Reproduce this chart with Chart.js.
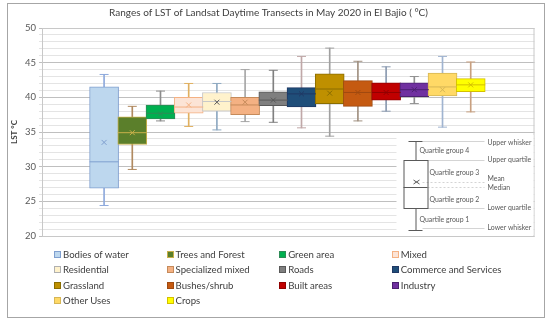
<!DOCTYPE html>
<html>
<head>
<meta charset="utf-8">
<script src="https://cdn.jsdelivr.net/npm/chart.js@4"></script>
<style>
  html, body { margin: 0; padding: 0; background: #fff; }
  #wrap { position: relative; width: 550px; height: 320px; overflow: hidden; }
  #frame { position: absolute; left: 7px; top: 3px; width: 536px; height: 313px; border: 1px solid #a6a6a6; pointer-events: none; }
  #legend { position: absolute; left: 54px; top: 247px; display: grid; grid-template-columns: repeat(4, 112.6px); grid-auto-rows: 15.3px;
            font-family: Lato, sans-serif; font-size: 9.6px; color: #404040; }
  #legend div { display: flex; align-items: center; white-space: nowrap; }
  #legend span.sw { display: inline-block; flex: 0 0 auto; width: 5px; height: 5px; border: 1px solid; margin-right: 2px; }
</style>
</head>
<body>
<div id="wrap">
  <canvas id="lstChart" width="550" height="320"></canvas>
  <div id="legend"></div>
  <div id="frame"></div>
</div>
<script>
// categories and box plot values (°C)
const categories = ['Bodies of water', 'Trees and Forest', 'Green area', 'Mixed', 'Residential', 'Specialized mixed', 'Roads',
  'Commerce and Services', 'Grassland', 'Bushes/shrub', 'Built areas', 'Industry', 'Other Uses', 'Crops'];
const whiskerLow  = [24.4, 29.6, 36.6, 35.8, 35.3, 36.5, 36.4, 35.6, 34.4, 36.6, 38.0, 39.1, 35.7, 37.9];
const quartile1   = [26.9, 33.2, 36.9, 37.7, 38.0, 37.5, 38.8, 38.6, 39.1, 38.7, 39.6, 40.1, 40.2, 40.8];
const median      = [30.7, 34.9, 37.7, 38.6, 39.4, 38.9, 39.6, 40.5, 41.2, 40.7, 40.7, 41.1, 41.5, 41.8];
const quartile3   = [41.5, 37.2, 38.9, 40.0, 40.7, 40.0, 40.8, 41.4, 43.4, 42.4, 42.1, 42.1, 43.5, 42.7];
const whiskerHigh = [43.3, 38.7, 40.9, 42.0, 42.0, 44.0, 43.9, 45.9, 47.1, 45.2, 44.4, 43.0, 45.9, 45.1];
const mean        = [33.5, 34.9, 37.6, 38.9, 39.3, 39.3, 39.6, 40.5, 40.6, 40.7, 40.7, 41.1, 41.1, 41.8];
const yTicks = [20, 25, 30, 35, 40, 45, 50];

// colours
const fills    = ['#bdd7ee', '#5b7f2b', '#00b050', '#fce4d6', '#fff2cc', '#f4b183', '#7f7f7f', '#1f4e79', '#bf9000', '#c55a11', '#c00000', '#7030a0', '#ffd966', '#ffff00'];
const borders  = ['#7f9fcf', '#c9b04a', '#2e8b57', '#f4b183', '#c9c9c9', '#c58a5a', '#595959', '#1f3864', '#8a6d00', '#a04a10', '#900000', '#4b2070', '#d6b656', '#d4c000'];
const whiskers = ['#8faadc', '#b08a60', '#8c8c8c', '#e0b060', '#8ea9c1', '#a6a6a6', '#808080', '#c0a8a8', '#a0a0a0', '#a09080', '#8a9ab0', '#909090', '#a0b4d0', '#c8a080'];

const idx = categories.map((c, i) => i);

// box plot key in the lower right of the plot + plot frame
const boxKey = {
  id: 'boxKey',
  beforeDatasetsDraw(chart) {
    const { ctx, chartArea: a } = chart;
    ctx.save();
    ctx.strokeStyle = '#c8c8c8';
    ctx.lineWidth = 1;
    ctx.strokeRect(a.left + 0.5, a.top + 0.5, a.right - a.left - 1, a.bottom - a.top);
    const R = a.right, B = a.bottom;
    ctx.fillStyle = '#fff';
    ctx.fillRect(R - 138, B - 101, 137, 100);
    const cx = R - 119;
    ctx.strokeStyle = '#d4d4d4';
    [[-95, -112, -50], [-76, -107, -50], [-28, -107, -50], [-8, -112, -50]].forEach(([dy, x0, x1]) => {
      ctx.beginPath(); ctx.moveTo(R + x0, B + dy + 0.5); ctx.lineTo(R + x1, B + dy + 0.5); ctx.stroke();
    });
    ctx.setLineDash([2, 2]);
    [[-54, -112], [-49, -107]].forEach(([dy, x0]) => {
      ctx.beginPath(); ctx.moveTo(R + x0, B + dy + 0.5); ctx.lineTo(R - 50, B + dy + 0.5); ctx.stroke();
    });
    ctx.setLineDash([]);
    ctx.strokeStyle = '#595959';
    ctx.beginPath();
    ctx.moveTo(cx + 0.5, B - 95); ctx.lineTo(cx + 0.5, B - 76);
    ctx.moveTo(cx + 0.5, B - 28); ctx.lineTo(cx + 0.5, B - 6);
    ctx.moveTo(cx - 7, B - 95 + 0.5); ctx.lineTo(cx + 7, B - 95 + 0.5);
    ctx.moveTo(cx - 7, B - 6 + 0.5); ctx.lineTo(cx + 7, B - 6 + 0.5);
    ctx.stroke();
    ctx.strokeRect(cx - 12 + 0.5, B - 76 + 0.5, 24, 48);
    ctx.beginPath();
    ctx.moveTo(cx - 12, B - 49 + 0.5); ctx.lineTo(cx + 12, B - 49 + 0.5);
    ctx.moveTo(cx - 2, B - 56); ctx.lineTo(cx + 4, B - 52);
    ctx.moveTo(cx + 4, B - 56); ctx.lineTo(cx - 2, B - 52);
    ctx.stroke();
    ctx.font = '6.9px Lato, sans-serif';
    ctx.fillStyle = '#595959';
    ctx.textBaseline = 'middle';
    ctx.fillText('Quartile group 4', R - 115, B - 85);
    ctx.fillText('Quartile group 3', R - 105, B - 63);
    ctx.fillText('Quartile group 2', R - 105, B - 36);
    ctx.fillText('Quartile group 1', R - 115, B - 16);
    ctx.fillText('Upper whisker', R - 47, B - 93);
    ctx.fillText('Upper quartile', R - 47, B - 76);
    ctx.fillText('Mean', R - 47, B - 57);
    ctx.fillText('Median', R - 47, B - 48);
    ctx.fillText('Lower quartile', R - 47, B - 28);
    ctx.fillText('Lower whisker', R - 47, B - 8);
    ctx.restore();
  }
};

const chart = new Chart(document.getElementById('lstChart').getContext('2d'), {
  type: 'bar',
  data: {
    labels: categories,
    datasets: [
      {
        // whisker stems
        type: 'bar',
        data: idx.map(i => ({ x: i, y: [whiskerLow[i], whiskerHigh[i]] })),
        backgroundColor: whiskers,
        barThickness: 1,
        grouped: false,
        order: 4
      },
      {
        // boxes Q1..Q3
        type: 'bar',
        data: idx.map(i => ({ x: i, y: [quartile1[i], quartile3[i]] })),
        backgroundColor: fills,
        borderColor: borders,
        borderWidth: 1,
        borderSkipped: false,
        barThickness: 29,
        grouped: false,
        order: 3
      },
      {
        // whisker caps
        type: 'scatter',
        data: idx.map(i => ({ x: i, y: whiskerLow[i] })).concat(idx.map(i => ({ x: i, y: whiskerHigh[i] }))),
        pointStyle: 'line',
        pointRadius: 4.5,
        borderColor: whiskers.concat(whiskers),
        borderWidth: 1,
        order: 2
      },
      {
        // medians
        type: 'scatter',
        data: idx.map(i => ({ x: i, y: median[i] })),
        pointStyle: 'line',
        pointRadius: 14.5,
        borderColor: borders,
        borderWidth: 1,
        order: 1
      },
      {
        // means
        type: 'scatter',
        data: idx.map(i => ({ x: i, y: mean[i] })),
        pointStyle: 'crossRot',
        pointRadius: 3.5,
        borderColor: borders.map((c, i) => i === 4 ? '#595959' : c),
        borderWidth: 1,
        order: 0
      }
    ]
  },
  options: {
    responsive: false,
    animation: false,
    devicePixelRatio: 1,
    layout: { padding: { left: 0, right: 13, top: 0, bottom: 84 } },
    plugins: {
      legend: { display: false },
      tooltip: { enabled: false },
      title: {
        display: true,
        text: 'Ranges of LST of Landsat Daytime Transects in May 2020 in El Bajio ( °C)',
        color: '#404040',
        font: { family: 'Lato', size: 10, weight: 'normal' },
        padding: { top: 7, bottom: 9 }
      }
    },
    scales: {
      x: { type: 'linear', min: -1.11, max: 14.17, display: false },
      y: {
        min: yTicks[0],
        max: yTicks[yTicks.length - 1],
        afterFit(scale) { scale.width = 42; },
        ticks: {
          stepSize: 1,
          autoSkip: false,
          padding: 3,
          color: '#595959',
          font: { family: 'Lato', size: 9.5 },
          callback: v => yTicks.includes(v) ? v : ''
        },
        grid: {
          color: c => yTicks.includes(c.tick.value) ? '#bfbfbf' : '#e4e4e4',
          tickLength: 3
        },
        border: { color: '#bfbfbf' },
        title: {
          display: true,
          text: 'LST °C',
          color: '#404040',
          font: { family: 'Lato', size: 8, weight: 'bold' },
          padding: { top: 10, bottom: 0 }
        }
      }
    }
  },
  plugins: [boxKey]
});

// html legend from the chart's categories and box colours
const box = chart.data.datasets[1];
document.getElementById('legend').innerHTML = chart.data.labels.map((lab, i) =>
  '<div><span class="sw" style="background:' + box.backgroundColor[i] + ';border-color:' +
  (i === 4 ? '#b0b0b0' : box.borderColor[i]) + '"></span>' + lab + '</div>').join('');
</script>
</body>
</html>
